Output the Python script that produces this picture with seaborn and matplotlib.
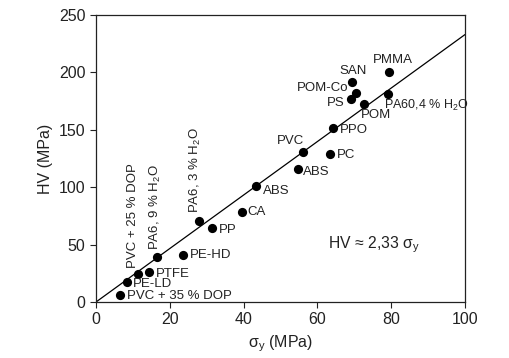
import pandas as pd
import matplotlib.pyplot as plt
import seaborn as sns

# --- Data ---
materials = [
    'PVC + 35 % DOP', 'PE-LD', 'PVC + 25 % DOP', 'PTFE', 'PA6, 9 % H$_2$O',
    'PE-HD', 'PA6, 3 % H$_2$O', 'PP', 'CA', 'ABS', 'ABS', 'PVC', 'PC',
    'PPO', 'PS', 'POM-Co', 'SAN', 'POM', 'PA60,4 % H$_2$O', 'PMMA',
]
sigma_y = [6.5, 8.4, 11.4, 14.3, 16.4, 23.6, 27.8, 31.4, 39.5, 43.4,
           54.7, 56.0, 63.4, 64.1, 69.1, 70.5, 69.4, 72.7, 79.0, 79.3]
hv = [6.4, 17.1, 24.4, 26.4, 38.9, 41.2, 70.8, 64.7, 78.4, 101.3,
      116.1, 130.4, 128.6, 151.8, 176.8, 181.8, 191.6, 172.2, 180.9, 200.3]

# fitted line HV ~ 2,33 sigma_y
fit_x = [0, 100]
fit_y = [0, 233]

# label placement: (dx px, dy px, ha, va, rotation)
label_style = [
    (7, -1, 'left', 'center', 0),
    (6, -2, 'left', 'center', 0),
    (-5, 6, 'center', 'bottom', 90),
    (7, -2, 'left', 'center', 0),
    (-1, 7, 'center', 'bottom', 90),
    (7, 0, 'left', 'center', 0),
    (-3, 8, 'center', 'bottom', 90),
    (7, -2, 'left', 'center', 0),
    (6, 0, 'left', 'center', 0),
    (7, -5, 'left', 'center', 0),
    (5, -3, 'left', 'center', 0),
    (-12, 11, 'center', 'center', 0),
    (7, -1, 'left', 'center', 0),
    (7, -2, 'left', 'center', 0),
    (-6, -4, 'right', 'center', 0),
    (-8, 5, 'right', 'center', 0),
    (1, 11, 'center', 'center', 0),
    (12, -11, 'center', 'center', 0),
    (-4, -11, 'left', 'center', 0),
    (4, 12, 'center', 'center', 0),
]


def create_plot():
    df = pd.DataFrame({'sigma_y': sigma_y, 'hv': hv, 'material': materials})

    sns.set_theme(style="ticks")
    plt.rcParams['font.family'] = ['Liberation Sans', 'DejaVu Sans']
    plt.rcParams['mathtext.fontset'] = 'custom'
    plt.rcParams['mathtext.rm'] = 'Liberation Sans'
    plt.rcParams['mathtext.it'] = 'Liberation Sans:italic'

    fig = plt.figure(figsize=(5.09, 3.58), dpi=100)
    ax = fig.add_axes([0.1886, 0.1564, 0.7250, 0.8016])

    sns.lineplot(x=fit_x, y=fit_y, ax=ax, color='black', linewidth=0.9)
    sns.scatterplot(data=df, x='sigma_y', y='hv', ax=ax, color='black',
                    s=44, edgecolor='black', linewidth=0, zorder=3)

    for (_, row), (dx, dy, ha, va, rot) in zip(df.iterrows(), label_style):
        fs = 9.0 if row['material'].startswith('PA60') else 9.5
        ax.annotate(row['material'], (row['sigma_y'], row['hv']),
                    xytext=(dx, dy), textcoords='offset pixels',
                    ha=ha, va=va, rotation=rot, fontsize=fs, color='#222222')

    ax.text(63, 50, 'HV ≈ 2,33 σ$_\\mathrm{y}$', fontsize=11.3,
            ha='left', va='center', color='#222222')

    ax.set_xlim(0, 100)
    ax.set_ylim(0, 250)
    ax.set_xticks([0, 20, 40, 60, 80, 100])
    ax.set_yticks([0, 50, 100, 150, 200, 250])
    ax.set_xlabel('σ$_\\mathrm{y}$ (MPa)', fontsize=11.5, color='#222222')
    ax.set_ylabel('HV (MPa)', fontsize=11.5, color='#222222')
    ax.tick_params(labelsize=11.5, colors='#222222', length=4, width=0.8)
    for spine in ax.spines.values():
        spine.set_visible(True)
        spine.set_linewidth(0.9)
        spine.set_color('#222222')

    fig.savefig('out.png', dpi=100)
    plt.close(fig)


if __name__ == "__main__":
    create_plot()
